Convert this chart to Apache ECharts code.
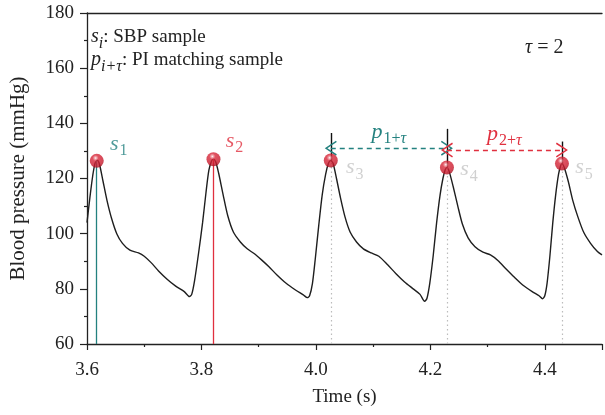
<!DOCTYPE html>
<html><head><meta charset="utf-8">
<script src="https://cdn.jsdelivr.net/npm/echarts@6/dist/echarts.min.js"></script>
<style>html,body{margin:0;padding:0;background:#fff}#c{width:605px;height:415px}</style>
</head><body><div id="c"></div>
<script>
const FONT = '"Liberation Serif", "DejaVu Serif", serif';

// Blood pressure waveform (time in s, pressure in mmHg)
const time = [3.600,3.605,3.610,3.614,3.618,3.622,3.628,3.635,3.643,3.652,3.662,3.675,3.690,3.700,3.712,3.725,3.740,3.755,3.770,3.779,3.783,3.788,3.795,3.802,3.808,3.813,3.818,3.821,3.825,3.830,3.838,3.846,3.856,3.868,3.880,3.892,3.905,3.918,3.932,3.948,3.965,3.978,3.985,3.989,3.994,3.999,4.005,4.011,4.017,4.022,4.026,4.030,4.036,4.043,4.051,4.060,4.071,4.083,4.097,4.110,4.125,4.140,4.155,4.170,4.182,4.190,4.194,4.199,4.205,4.211,4.217,4.222,4.226,4.229,4.233,4.240,4.248,4.256,4.266,4.278,4.292,4.305,4.318,4.332,4.347,4.362,4.378,4.390,4.396,4.400,4.404,4.409,4.414,4.419,4.424,4.428,4.430,4.434,4.441,4.449,4.458,4.468,4.480,4.492,4.500];
const pressure = [104,113,121,125.5,126.6,125,119,112,105.5,100,96.5,94,93,91.8,89.5,86.5,83.5,81,79,77.2,78,83,93,104,115,123,126.5,127,126,122,114,106.5,100.5,97,94.5,92.8,90.5,88,85,82,79.5,77.8,76.8,77.5,82,91,103,114,121.5,125.5,126.5,125.5,120,113,106,100.5,97,94.5,93,91.8,88.8,85.5,82.5,80,78,75.5,76.5,82,92,104,114,120,123.2,124,122.5,117,110,103.5,98.5,95.3,93.3,92.3,90.3,87.3,84.2,81.3,79,77.5,76.4,77.5,82,92,104,114,121.5,124.8,125.4,124,119,112,106,100.5,96.5,93.5,92.3];

// SBP samples (peaks)
const peakTime  = [3.617, 3.821, 4.026, 4.229, 4.430];
const peakValue = [126.4, 127.0, 126.5, 124.0, 125.4];
const peakIndex = ['1', '2', '3', '4', '5'];
// top of the short marker lines above s3..s5 and arrow heights
const guideTop   = [136.5, 138.0, 133.4];
const arrowLevel = [131.0, 130.3];
const arrowIndex = ['1', '2'];

const xTickLabels = ['3.6', '3.8', '4.0', '4.2', '4.4'];
const yTickLabels = [60, 80, 100, 120, 140, 160, 180];

const TEAL = '#23817f';
const RED = '#e0303f';
const GRAY = '#c4c4c4';
const INK = '#222';

const wave = time.map((t, i) => [t, pressure[i]]);
const peaks = peakTime.map((t, i) => [t, peakValue[i]]);

function f(size, italic) { return (italic ? 'italic ' : '') + size + 'px ' + FONT; }

function subRich(color, fill) {
  const k = fill ? 'fill' : 'color';
  return {
    m:  { font: f(22, true), fontFamily: FONT, fontStyle: 'italic', fontSize: 22, [k]: color, verticalAlign: 'middle', lineHeight: 22 },
    sr: { font: f(16, false), fontFamily: FONT, fontSize: 16, [k]: color, verticalAlign: 'bottom', padding: [14, 0, 0, 1] },
    si: { font: f(16, true), fontFamily: FONT, fontStyle: 'italic', fontSize: 16, [k]: color, verticalAlign: 'bottom', padding: [14, 0, 0, 0] },
    r:  { font: f(19, false), fontFamily: FONT, fontSize: 19, [k]: color, verticalAlign: 'middle', lineHeight: 22 }
  };
}

const labelColors = [TEAL, RED, GRAY, GRAY, GRAY];
const labelOffsets = [[22, -17], [21, -18], [24, 7], [22, 2], [22, 4]];

const verticals = [];
peakTime.forEach((t, i) => {
  let ls;
  if (i === 0) ls = { color: TEAL, width: 1.3, type: 'solid' };
  else if (i === 1) ls = { color: RED, width: 1.3, type: 'solid' };
  else ls = { color: '#bcbcbc', width: 1.2, type: [1.5, 3] };
  verticals.push([{ coord: [t, 60], lineStyle: ls }, { coord: [t, peakValue[i]] }]);
});
peakTime.slice(2).forEach((t, i) => {
  verticals.push([{ coord: [t, peakValue[i + 2]], lineStyle: { color: '#111', width: 1.4, type: 'solid' } }, { coord: [t, guideTop[i]] }]);
});

const chev = 'path://M5,0 L10,8.6 L9.1,9.2 L5,2.0 L0.9,9.2 L0,8.6 Z';
const arrowColors = [TEAL, RED];
const arrows = arrowLevel.map((lv, i) => {
  const c = arrowColors[i];
  return [{
    coord: [peakTime[i + 2], lv],
    lineStyle: { color: c, width: 1.4, type: [5, 4] },
    label: {
      show: true, position: 'middle', distance: 1,
      formatter: '{m|p}{sr|' + arrowIndex[i] + '+}{si|τ}',
      rich: subRich(c, false)
    }
  }, { coord: [peakTime[i + 3], lv] }];
});

const legendRich = subRich(INK, true);
legendRich.m.fontSize = 20; legendRich.m.font = f(20, true);

const chart = echarts.init(document.getElementById('c'), null, { renderer: 'canvas' });
chart.setOption({
  animation: false,
  backgroundColor: '#fff',
  textStyle: { fontFamily: FONT },
  grid: { left: 85, right: 0, top: 13, bottom: 71, containLabel: false },
  xAxis: [{
    type: 'value', min: 3.6, max: 4.5, interval: 0.2,
    name: 'Time (s)', nameLocation: 'middle', nameGap: 44,
    nameTextStyle: { fontFamily: FONT, fontSize: 19, color: INK },
    axisLine: { lineStyle: { color: INK, width: 1.3 } },
    axisTick: { show: true, length: 6, lineStyle: { color: INK, width: 1.2 } },
    minorTick: { show: true, splitNumber: 2, length: 3, lineStyle: { color: INK, width: 1.2 } },
    splitLine: { show: false },
    axisLabel: {
      fontFamily: FONT, fontSize: 19, color: INK, margin: 17,
      formatter: (v) => { const s = v.toFixed(1); return xTickLabels.includes(s) && Math.abs(v * 5 - Math.round(v * 5)) < 1e-6 ? s : ''; }
    }
  }, {
    type: 'value', position: 'top', min: 3.6, max: 4.5,
    axisLine: { show: true, lineStyle: { color: INK, width: 1.3 } },
    axisTick: { show: false }, axisLabel: { show: false }, splitLine: { show: false }
  }],
  yAxis: {
    type: 'value', min: 60, max: 180, interval: 20,
    name: 'Blood pressure (mmHg)', nameLocation: 'middle', nameGap: 58,
    nameTextStyle: { fontFamily: FONT, fontSize: 21, color: INK },
    axisLine: { show: true, lineStyle: { color: INK, width: 1.3 } },
    axisTick: { show: true, length: 7, lineStyle: { color: INK, width: 1.2 } },
    minorTick: { show: true, splitNumber: 2, length: 3, lineStyle: { color: INK, width: 1.2 } },
    splitLine: { show: false },
    axisLabel: {
      fontFamily: FONT, fontSize: 19, color: INK, margin: 13,
      formatter: (v) => yTickLabels.includes(v) ? String(v) : ''
    }
  },
  graphic: [
    { type: 'text', left: 91, top: 27, style: {
      text: '{m|s}{si|i}{r|: SBP sample}', font: f(19, false), fontFamily: FONT, rich: legendRich } },
    { type: 'text', left: 91, top: 50, style: {
      text: '{m|p}{si|i+τ}{r|: PI matching sample}', font: f(19, false), fontFamily: FONT, rich: legendRich } },
    { type: 'text', left: 525, top: 38, style: {
      text: '{m|τ}{r| = 2}', font: f(20, false), fontFamily: FONT,
      rich: {
        m: { font: f(20, true), fontFamily: FONT, fontStyle: 'italic', fontSize: 20, fill: INK },
        r: { font: f(20, false), fontFamily: FONT, fontSize: 20, fill: INK }
      } } }
  ],
  series: [
    {
      type: 'line', name: 'guides', data: [], silent: true, z: 2,
      markLine: { silent: true, symbol: ['none', 'none'], animation: false, label: { show: false }, data: verticals }
    },
    {
      type: 'line', name: 'intervals', data: [], silent: true, z: 3,
      markLine: { silent: true, symbol: [chev, chev], symbolSize: [15, 12], animation: false, data: arrows }
    },
    {
      type: 'line', name: 'BP', data: wave, showSymbol: false, smooth: 0.25, z: 4,
      lineStyle: { color: '#1e1e1e', width: 1.4 }
    },
    {
      type: 'scatter', name: 'SBP', z: 6, symbol: 'circle', symbolSize: 14,
      data: peaks.map((p, i) => ({
        value: p,
        label: {
          show: true, position: 'inside', offset: labelOffsets[i],
          formatter: '{m|s}{sr|' + peakIndex[i] + '}',
          rich: subRich(labelColors[i], false)
        }
      })),
      itemStyle: {
        color: {
          type: 'radial', x: 0.42, y: 0.3, r: 0.7,
          colorStops: [
            { offset: 0, color: '#ffffff' },
            { offset: 0.1, color: '#f2a0a8' },
            { offset: 0.3, color: '#d8283a' },
            { offset: 0.8, color: '#c8192c' },
            { offset: 1, color: '#a0101e' }
          ]
        }
      }
    }
  ]
});
</script></body></html>
